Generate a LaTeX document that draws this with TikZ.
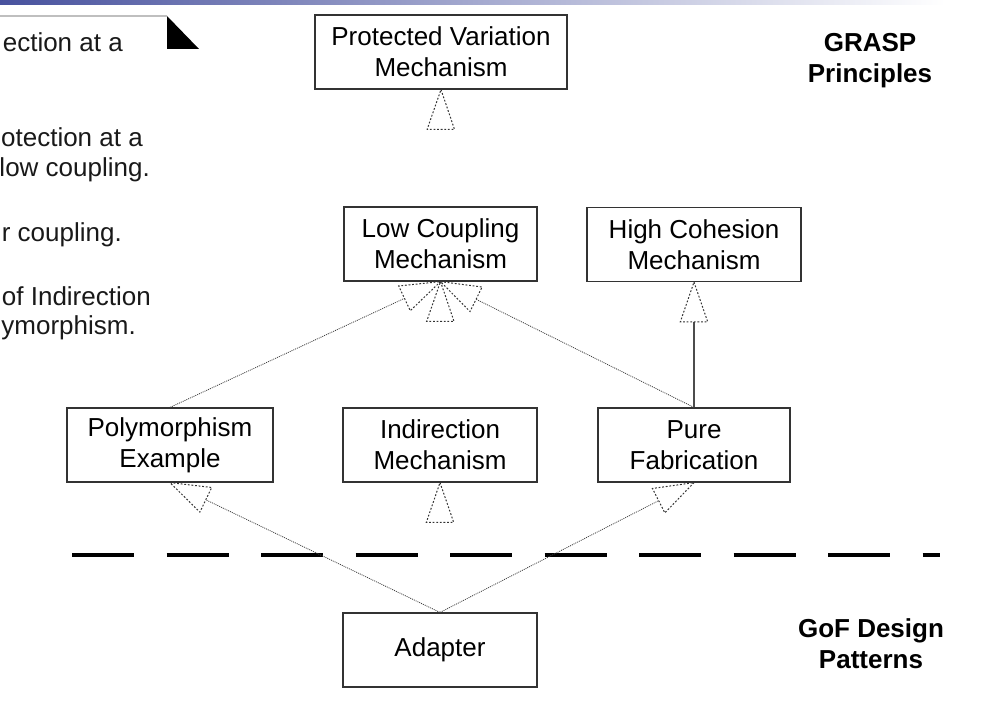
\documentclass[tikz,border=0pt]{standalone}
\usepackage{fontspec}
\setmainfont{Liberation Sans}
\usepackage{xcolor}
\usepackage{tikz}
\usetikzlibrary{calc}
\definecolor{barblue}{RGB}{72,82,158}
\tikzset{
    mech/.style={rectangle, draw=black!80, line width=1.2pt, align=center, inner sep=0pt,
        minimum height=74pt, font=\fontsize{26}{31}\selectfont},
    heading/.style={align=center, inner sep=0pt, font=\bfseries\fontsize{26}{31}\selectfont},
    notetext/.style={anchor=base east, inner sep=0pt, text=black!90, font=\fontsize{26}{31}\selectfont},
    realize/.style={black!75, line width=0.8pt, dash pattern=on 1pt off 1pt},
    solidlink/.style={black!70, line width=1.2pt},
    umltri/.style={black!80, line width=1pt, dash pattern=on 1.8pt off 1.8pt},
    separator/.style={line width=3.5pt, dash pattern=on 62pt off 32.5pt},
}
\newcommand{\umlhead}[2]{\draw[umltri] (#2) -- ($(#2)!42pt!19:(#1)$) -- ($(#2)!42pt!-19:(#1)$) -- cycle;}
\newcommand{\realizes}[3][realize]{\draw[#1] (#2) -- ($(#3)!40pt!(#2)$); \umlhead{#2}{#3}}

\begin{document}
\begin{tikzpicture}[x=1pt, y=-1pt]
        \useasboundingbox (0,0) rectangle (1004,722);
        \shade[left color=barblue, right color=white] (0,0) rectangle (945,5);
        \draw[black!25, line width=2pt] (0,16) -- (167,16);
        \fill (167,16) -- (167,49) -- (199,49) -- cycle;
        \node[notetext] (n1) at (123,52) {ection at a};
        \node[notetext] (n2) at (143,147) {otection at a};
        \node[notetext] (n3) at (150,177) {low coupling.};
        \node[notetext] (n4) at (122,242) {r coupling.};
        \node[notetext] (n5) at (151,305) {of Indirection};
        \node[notetext] (n6) at (136,334) {ymorphism.};
        \node[mech, minimum width=252pt] (pv) at (441,52) {Protected Variation\\Mechanism};
        \node[mech, minimum width=193pt] (lc) at (440.5,244) {Low Coupling\\Mechanism};
        \node[mech, minimum width=214pt] (hc) at (694,244.5) {High Cohesion\\Mechanism};
        \node[mech, minimum width=206pt] (pe) at (170,445) {Polymorphism\\Example};
        \node[mech, minimum width=194pt] (ind) at (440,445) {Indirection\\Mechanism};
        \node[mech, minimum width=192pt] (pf) at (694,445) {Pure\\Fabrication};
        \node[mech, minimum width=194pt] (ad) at (440,650) {Adapter};
        \node[heading] (grasp) at (870,61) {GRASP\\Principles};
        \node[heading] (gof) at (871,644) {GoF Design\\Patterns};
        \coordinate (sepL) at (72,555);
        \coordinate (sepR) at (940,555);
        \draw[separator] (sepL) -- (sepR);
        \realizes{pe.north}{lc.south}
        \realizes{pf.north}{lc.south}
        \realizes[solidlink]{pf.north}{hc.south}
        \realizes{ad.north}{pe.south}
        \realizes{ad.north}{pf.south}
        \umlhead{lc.north}{pv.south}
        \umlhead{ind.north}{lc.south}
        \umlhead{ad.north}{ind.south}
\end{tikzpicture}
\end{document}
